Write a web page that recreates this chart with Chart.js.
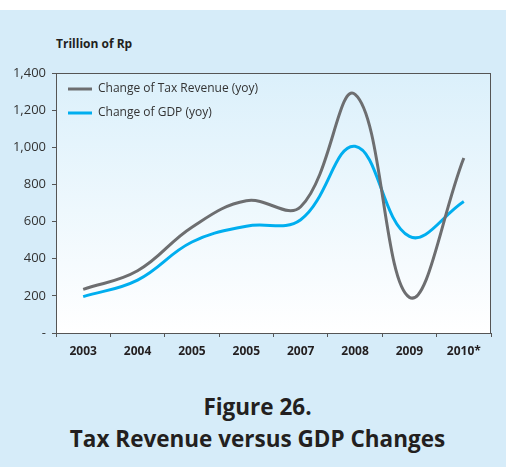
<!DOCTYPE html>
<html lang="en">
  <head>
    <meta charset="UTF-8" />
    <title>Tax Revenue versus GDP Changes</title>
    <style>
      html,
      body {
        margin: 0;
        padding: 0;
        background: #ffffff;
      }

      .panel {
        position: absolute;
        left: 0;
        top: 10px;
        width: 506px;
        height: 457px;
        background: #d6ecf9;
      }

      .container {
        position: absolute;
        left: 0;
        top: 0;
        width: 515px;
        height: 375px;
      }

      .unit {
        position: absolute;
        left: 56px;
        top: 35px;
        font: bold 12px "Open Sans", sans-serif;
        color: #231f20;
      }

      .caption {
        position: absolute;
        left: 0;
        top: 391px;
        width: 515px;
        text-align: center;
        font: bold 22.5px "Open Sans", sans-serif;
        line-height: 32px;
        color: #231f20;
      }
    </style>
  </head>
  <body>
    <div class="panel"></div>
    <div class="unit">Trillion of Rp</div>
    <div class="container"><canvas id="chart"></canvas></div>
    <div class="caption">Figure 26.<br />Tax Revenue versus GDP Changes</div>

    <script src="https://cdn.jsdelivr.net/npm/chart.js@4.4.0/dist/chart.umd.min.js"></script>
    <script>
      const YEARS = ["2003", "2004", "2005", "2005", "2007", "2008", "2009", "2010*"];
      const TAX_REVENUE = [235, 335, 570, 712, 680, 1285, 192, 942];
      const GDP = [196, 285, 490, 575, 610, 1005, 520, 708];
      const Y_TICKS = [0, 200, 400, 600, 800, 1000, 1200, 1400];

      // plot background gradient + frame around the plot
      const plotFrame = {
        id: "plotFrame",
        beforeDraw(chart) {
          const { ctx, chartArea: a } = chart;
          const g = ctx.createLinearGradient(0, a.top, 0, a.bottom);
          g.addColorStop(0, "#dbf0fb");
          g.addColorStop(1, "#ffffff");
          ctx.save();
          ctx.fillStyle = g;
          ctx.fillRect(a.left, a.top, a.right - a.left, a.bottom - a.top);
          ctx.restore();
        },
        afterDraw(chart) {
          const { ctx, chartArea: a } = chart;
          ctx.save();
          ctx.strokeStyle = "#555555";
          ctx.lineWidth = 1;
          ctx.strokeRect(a.left + 0.5, a.top + 0.5, a.right - a.left - 1, a.bottom - a.top);
          ctx.restore();
        },
      };

      // legend drawn inside the plot, top-left
      const innerLegend = {
        id: "innerLegend",
        afterDatasetsDraw(chart) {
          const { ctx, chartArea: a } = chart;
          ctx.save();
          ctx.font = '12px "Open Sans", sans-serif';
          ctx.textBaseline = "middle";
          chart.data.datasets.forEach((ds, i) => {
            const y = a.top + 16 + i * 24;
            ctx.strokeStyle = ds.borderColor;
            ctx.lineWidth = 3;
            ctx.beginPath();
            ctx.moveTo(a.left + 12, y);
            ctx.lineTo(a.left + 36, y);
            ctx.stroke();
            ctx.fillStyle = "#333333";
            ctx.fillText(ds.label, a.left + 42, y);
          });
          ctx.restore();
        },
      };

      new Chart(document.getElementById("chart"), {
        type: "line",
        data: {
          labels: YEARS,
          datasets: [
            {
              label: "Change of Tax Revenue (yoy)",
              data: TAX_REVENUE,
              borderColor: "#6d6e70",
              borderWidth: 3,
              tension: 0.4,
              pointRadius: 0,
            },
            {
              label: "Change of GDP (yoy)",
              data: GDP,
              borderColor: "#00aeef",
              borderWidth: 3,
              tension: 0.4,
              pointRadius: 0,
            },
          ],
        },
        options: {
          responsive: true,
          maintainAspectRatio: false,
          animation: false,
          layout: { padding: { top: 73, right: 24, left: 0, bottom: 0 } },
          plugins: {
            legend: { display: false },
            tooltip: { enabled: false },
          },
          scales: {
            x: {
              offset: true,
              grid: {
                offset: true,
                drawOnChartArea: false,
                color: "#555555",
                tickLength: 4,
              },
              border: { color: "#555555" },
              ticks: {
                padding: 7,
                color: "#231f20",
                font: { family: "Open Sans", size: 12, weight: "bold" },
                maxRotation: 0,
              },
              afterFit(scale) {
                scale.height = 42;
              },
            },
            y: {
              min: 0,
              max: 1400,
              afterBuildTicks(scale) {
                scale.ticks = Y_TICKS.map((v) => ({ value: v }));
              },
              grid: {
                drawOnChartArea: false,
                color: "#555555",
                tickLength: 4,
              },
              border: { color: "#555555" },
              ticks: {
                padding: 6,
                color: "#333333",
                font: { family: "Open Sans", size: 13 },
                callback: (v) => (v === 0 ? "-" : v.toLocaleString("en-US")),
              },
              afterFit(scale) {
                scale.width = 56;
              },
            },
          },
        },
        plugins: [plotFrame, innerLegend],
      });
    </script>
  </body>
</html>
